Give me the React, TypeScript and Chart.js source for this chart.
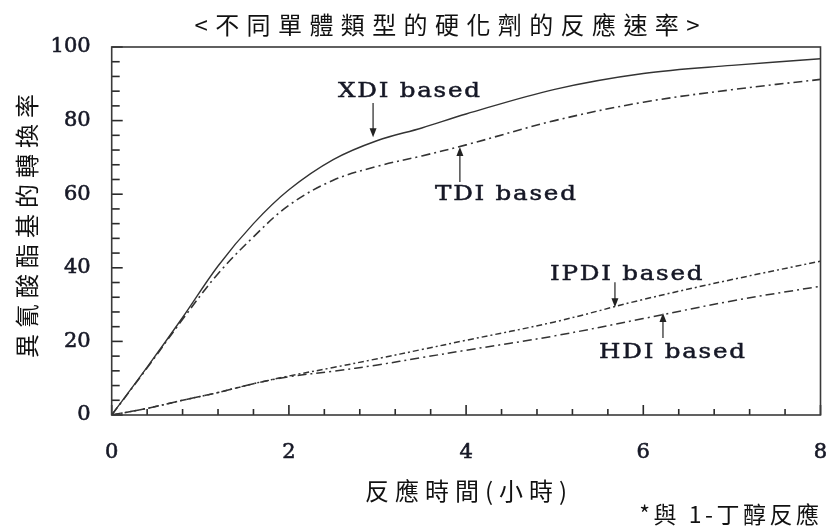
import { useEffect, useRef } from "react";
import { Chart, registerables } from "chart.js";

Chart.register(...registerables);

// ---- data ----
const timeHours = [0, 0.4, 0.8, 1.2, 1.6, 2, 2.5, 3, 3.5, 4, 5, 6, 7, 8];
const xdiConversion = [0, 13, 26.5, 40.5, 52, 61.2, 69.4, 74.6, 78, 81.8, 88.5, 92.8, 95, 96.8];
const tdiConversion = [0, 12.8, 26, 38.4, 48.4, 57, 63.8, 67.6, 70.4, 73.4, 80, 85, 88.4, 91.2];
const ipdiConversion = [0, 1.8, 4, 6.1, 8.5, 10.6, 12.9, 15.3, 17.8, 20.3, 25.3, 31.4, 36.8, 41.8];
const hdiConversion = [0, 1.8, 4, 6.1, 8.5, 10.4, 11.9, 13.6, 15.6, 17.6, 21.5, 26.2, 31, 35];

const seriesLabels = ["XDI based", "TDI based", "IPDI based", "HDI based"];

const titleText = "<不同單體類型的硬化劑的反應速率>";
const xAxisTitle = "反應時間(小時)";
const yAxisTitle = "異氰酸酯基的轉換率";
const footnoteText = "*與 1-丁醇反應";

// annotation anchors in data units: label left/center, arrow x, arrow tail y, arrow head y
const annotationLabelX = [2.554, 3.649, 4.947, 5.5];
const annotationLabelY = [88.0, 59.8, 38.3, 17.1];
const annotationArrowX = [2.95, 3.93, 5.68, 6.222];
const annotationArrowFrom = [84.8, 63.3, 36.1, 20.9];
const annotationArrowTo = [75.5, 72.8, 29.3, 27.7];

const X_MIN = 0;
const X_MAX = 8;
const Y_MIN = 0;
const Y_MAX = 100;
const Y_MINOR = 4;
const X_MINOR = 0.4;

const toPoints = (ys: number[]) => timeHours.map((x, i) => ({ x, y: ys[i] }));

function spacedText(
  ctx: CanvasRenderingContext2D,
  text: string,
  cx: number,
  cy: number,
  font: string,
  spacing: number,
  align: "center" | "right" | "left",
  stretch = 1,
  embolden = 0
) {
  ctx.save();
  ctx.font = font;
  (ctx as any).letterSpacing = spacing + "px";
  ctx.textBaseline = "middle";
  ctx.textAlign = "left";
  const w = (ctx.measureText(text).width - spacing) * stretch;
  let x = cx;
  if (align === "center") x = cx - w / 2;
  else if (align === "right") x = cx - w;
  ctx.translate(x, cy);
  ctx.scale(stretch, 1);
  ctx.fillText(text, 0, 0);
  if (embolden > 0) {
    ctx.lineWidth = embolden;
    ctx.strokeStyle = ctx.fillStyle as string;
    ctx.setLineDash([]);
    ctx.strokeText(text, 0, 0);
  }
  ctx.restore();
}

const tickPlugin = {
  id: "inwardTicks",
  afterDatasetsDraw(chart: any) {
    const ctx: CanvasRenderingContext2D = chart.ctx;
    const a = chart.chartArea;
    const xs = chart.scales.x;
    const ys = chart.scales.y;
    ctx.save();
    ctx.setLineDash([]);
    ctx.fillStyle = "#2a2a2a";
    const nY = Math.round((Y_MAX - Y_MIN) / Y_MINOR);
    for (let i = 0; i <= nY; i++) {
      const py = ys.getPixelForValue(Y_MIN + i * Y_MINOR);
      const len = i % 5 === 0 ? 11 : 8;
      ctx.fillRect(a.left, py - 0.8, len, 1.6);
    }
    const nX = Math.round((X_MAX - X_MIN) / X_MINOR);
    for (let i = 0; i <= nX; i++) {
      const px = xs.getPixelForValue(X_MIN + i * X_MINOR);
      const len = i % 5 === 0 ? 10 : 6;
      ctx.fillRect(px - 0.8, a.bottom - len, 1.6, len);
    }
    ctx.strokeStyle = "#3a3a3a";
    ctx.lineWidth = 1.6;
    ctx.strokeRect(a.left, a.top, a.right - a.left, a.bottom - a.top);
    ctx.restore();
  },
};

const textPlugin = {
  id: "texts",
  afterDraw(chart: any) {
    const ctx: CanvasRenderingContext2D = chart.ctx;
    const a = chart.chartArea;
    const xs = chart.scales.x;
    const ys = chart.scales.y;
    ctx.save();
    ctx.setLineDash([]);

    for (let i = 0; i < seriesLabels.length; i++) {
      const lx = xs.getPixelForValue(annotationLabelX[i]);
      const ly = ys.getPixelForValue(annotationLabelY[i]);
      ctx.fillStyle = "#161826";
      spacedText(ctx, seriesLabels[i], lx, ly, "21px 'DejaVu Serif'", 1.5, "left", 1.17, 0.5);

      const ax = xs.getPixelForValue(annotationArrowX[i]);
      const y0 = ys.getPixelForValue(annotationArrowFrom[i]);
      const y1 = ys.getPixelForValue(annotationArrowTo[i]);
      const dir = y1 > y0 ? 1 : -1;
      ctx.strokeStyle = "#222";
      ctx.fillStyle = "#222";
      ctx.lineWidth = 1.2;
      ctx.beginPath();
      ctx.moveTo(ax, y0);
      ctx.lineTo(ax, y1 - dir * 7);
      ctx.stroke();
      ctx.beginPath();
      ctx.moveTo(ax, y1);
      ctx.lineTo(ax - 3.5, y1 - dir * 9);
      ctx.lineTo(ax + 3.5, y1 - dir * 9);
      ctx.closePath();
      ctx.fill();
    }

    ctx.fillStyle = "#111";
    const cjk = "'Noto Sans CJK TC', 'Noto Sans CJK SC', sans-serif";
    spacedText(ctx, titleText, 447, 25, "24px " + cjk, 7.4, "center");
    spacedText(ctx, xAxisTitle, (a.left + a.right) / 2, a.bottom + 76, "24px " + cjk, 6, "center");
    spacedText(ctx, footnoteText, 819, 514, "23px " + cjk, 3.5, "right");

    ctx.save();
    ctx.translate(27, 226);
    ctx.rotate(-Math.PI / 2);
    spacedText(ctx, yAxisTitle, 0, 0, "24px " + cjk, 6, "center");
    ctx.restore();

    ctx.restore();
  },
};

export default function App() {
  const canvasRef = useRef<HTMLCanvasElement | null>(null);

  useEffect(() => {
    if (!canvasRef.current) return;
    const lineColor = "#333";
    const tickFont = { family: "'DejaVu Serif'", size: 21 };
    const chart = new Chart(canvasRef.current, {
      type: "line",
      data: {
        datasets: [
          { label: seriesLabels[0], data: toPoints(xdiConversion), borderColor: lineColor, borderWidth: 1.4 },
          { label: seriesLabels[1], data: toPoints(tdiConversion), borderColor: lineColor, borderWidth: 1.6, borderDash: [9, 4, 2, 4] },
          { label: seriesLabels[2], data: toPoints(ipdiConversion), borderColor: lineColor, borderWidth: 1.5, borderDash: [6, 3, 2, 3] },
          { label: seriesLabels[3], data: toPoints(hdiConversion), borderColor: lineColor, borderWidth: 1.5, borderDash: [9, 4, 2, 4] },
        ],
      },
      options: {
        animation: false,
        responsive: false,
        maintainAspectRatio: false,
        devicePixelRatio: 1,
        elements: {
          point: { radius: 0, hoverRadius: 0 },
          line: { tension: 0.35, fill: false },
        },
        layout: { padding: { top: 47, right: 13.5, left: 0, bottom: 0 } },
        plugins: {
          legend: { display: false },
          title: { display: false },
          tooltip: { enabled: false },
        },
        scales: {
          x: {
            type: "linear",
            min: X_MIN,
            max: X_MAX,
            grid: { display: false, drawTicks: false },
            border: { display: false },
            ticks: {
              stepSize: 2,
              padding: 25,
              color: "#161826",
              textStrokeColor: "#161826",
              textStrokeWidth: 0.6,
              font: tickFont,
            },
            afterFit: (s: any) => {
              s.height = 111;
              s.paddingLeft = 0;
              s.paddingRight = 0;
            },
          },
          y: {
            type: "linear",
            min: Y_MIN,
            max: Y_MAX,
            grid: { display: false, drawTicks: false },
            border: { display: false },
            ticks: {
              stepSize: 20,
              padding: 21,
              color: "#161826",
              textStrokeColor: "#161826",
              textStrokeWidth: 0.6,
              font: tickFont,
            },
            afterFit: (s: any) => {
              s.width = 111.7;
              s.paddingTop = 0;
              s.paddingBottom = 0;
            },
          },
        },
      },
      plugins: [tickPlugin, textPlugin],
    });
    return () => chart.destroy();
  }, []);

  return (
    <div style={{ position: "fixed", left: 0, top: 0, width: 834, height: 526, background: "#fff" }}>
      <canvas ref={canvasRef} width={834} height={526} style={{ width: 834, height: 526, display: "block" }} />
    </div>
  );
}
